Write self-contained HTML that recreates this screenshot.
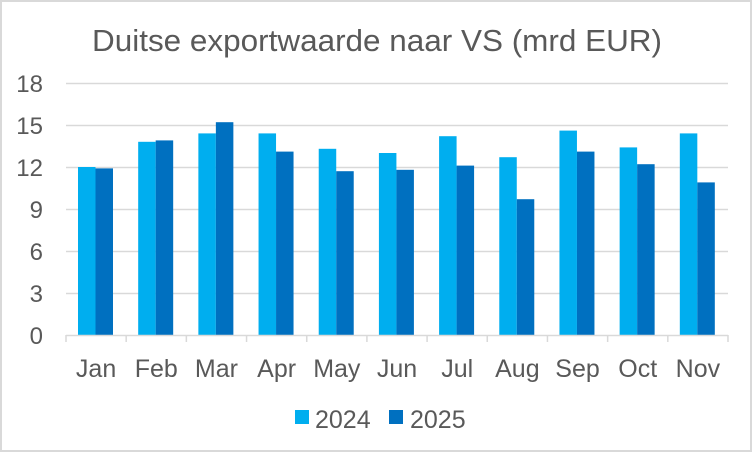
<!DOCTYPE html>
<html><head><meta charset="utf-8"><style>
html,body{margin:0;padding:0;background:#fff;}
svg{display:block;font-family:"Liberation Sans",sans-serif;}
</style></head><body>
<svg width="752" height="452" viewBox="0 0 752 452">
<rect x="1" y="1" width="750" height="450" fill="#fff" stroke="#d9d9d9" stroke-width="2"/>
<text x="377" y="51" text-anchor="middle" font-size="31" textLength="570" lengthAdjust="spacingAndGlyphs" fill="#595959">Duitse exportwaarde naar VS (mrd EUR)</text>
<g stroke="#d9d9d9" stroke-width="1.5">
<line x1="66" x2="728" y1="83.5" y2="83.5"/>
<line x1="66" x2="728" y1="125.5" y2="125.5"/>
<line x1="66" x2="728" y1="167.5" y2="167.5"/>
<line x1="66" x2="728" y1="209.5" y2="209.5"/>
<line x1="66" x2="728" y1="251.5" y2="251.5"/>
<line x1="66" x2="728" y1="293.5" y2="293.5"/>
</g>
<g font-size="24" fill="#595959" text-anchor="end">
<text x="43" y="344">0</text><text x="43" y="302">3</text><text x="43" y="260">6</text>
<text x="43" y="218">9</text><text x="43" y="176">12</text><text x="43" y="134">15</text><text x="43" y="92">18</text>
</g>
<g id="bars"></g>
<g stroke="#d9d9d9" stroke-width="1.5" id="axis">
<line x1="66" x2="728" y1="335.5" y2="335.5"/>
</g>
<g font-size="25" fill="#595959" text-anchor="middle" id="labels"></g>
<rect x="295" y="410" width="14" height="14" fill="#00aeef"/>
<text x="315" y="428" font-size="25" fill="#595959">2024</text>
<rect x="389" y="410" width="14" height="14" fill="#0070c0"/>
<text x="410" y="428" font-size="25" fill="#595959">2025</text>
<script>
var m=["Jan","Feb","Mar","Apr","May","Jun","Jul","Aug","Sep","Oct","Nov"];
var a=[12.0,13.8,14.4,14.4,13.3,13.0,14.2,12.7,14.6,13.4,14.4];
var b=[11.9,13.9,15.2,13.1,11.7,11.8,12.1,9.7,13.1,12.2,10.9];
var ns="http://www.w3.org/2000/svg",w=662/11;
var bars=document.getElementById("bars"),ax=document.getElementById("axis"),lb=document.getElementById("labels");
function r(x,v,c){var e=document.createElementNS(ns,"rect");e.setAttribute("x",x);e.setAttribute("width",17.5);e.setAttribute("y",335-v*14);e.setAttribute("height",v*14);e.setAttribute("fill",c);bars.appendChild(e);}
for(var i=0;i<11;i++){var x0=66+i*w;
r(x0+12,a[i],"#00aeef");r(x0+29.5,b[i],"#0070c0");
var t=document.createElementNS(ns,"text");t.setAttribute("x",x0+w/2);t.setAttribute("y",377);t.textContent=m[i];lb.appendChild(t);}
for(var i=0;i<=11;i++){var l=document.createElementNS(ns,"line");var x=66+i*w;l.setAttribute("x1",x);l.setAttribute("x2",x);l.setAttribute("y1",335);l.setAttribute("y2",342);ax.appendChild(l);}
</script>
</svg>
</body></html>
